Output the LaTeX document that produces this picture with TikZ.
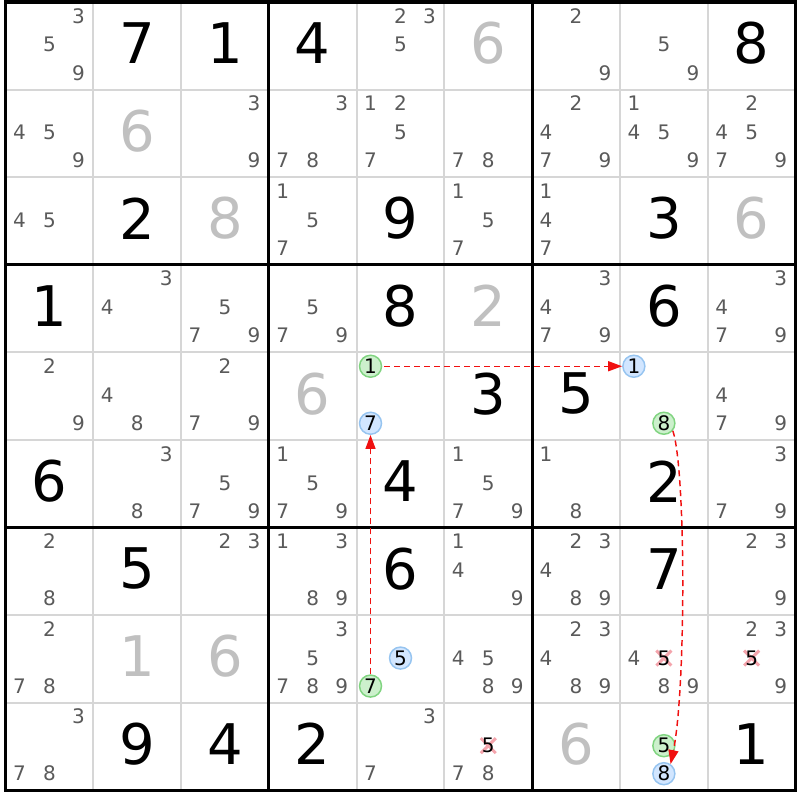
\documentclass[tikz,border=0pt]{standalone}
\usepackage{fontspec}
\setmainfont{DejaVu Sans}
\usetikzlibrary{arrows.meta}
\definecolor{candgray}{HTML}{5A5A5A}
\definecolor{givgray}{HTML}{C0C0C0}
\definecolor{thingrid}{HTML}{D6D6D6}
\definecolor{hlgreenfill}{HTML}{CCF0CC}
\definecolor{hlgreenline}{HTML}{80D480}
\definecolor{hlbluefill}{HTML}{D2E6FF}
\definecolor{hlblueline}{HTML}{96C4F0}
\definecolor{elimx}{HTML}{F4A4AC}
\definecolor{linkred}{HTML}{F01010}

\newcommand\setpos[3]{%
 \pgfmathsetmacro\cellx{49.4+(#2-1)*87.78}%
 \pgfmathsetmacro\celly{45.8+(#1-1)*87.61}%
 \pgfmathtruncatemacro\rr{(#3-1)/3}%
 \pgfmathtruncatemacro\cc{#3-1-3*\rr}%
 \edef\ddx{\ifcase\cc -30\or 0\or 29\fi}%
 \edef\ddy{\ifcase\rr -30\or -1\or 27\fi}%
 \pgfmathsetmacro\px{\cellx+\ddx}%
 \pgfmathsetmacro\py{\celly+\ddy}%
}
\newcommand\cands[3]{\foreach \d in {#3}{\setpos{#1}{#2}{\d}\node[cand] (k#1#2\d) at (\px,\py) {\d};}}
\newcommand\given[4]{%
 \pgfmathsetmacro\gx{49.4+(#2-1)*87.78}%
 \pgfmathsetmacro\gy{43.3+(#1-1)*87.61}%
 \node[given,#4] (g#1#2) at (\gx,\gy) {#3};}
\newcommand\hlcand[4]{\setpos{#1}{#2}{#3}\node[cand,#4] (h#1#2#3) at (\px,\py) {#3};}
\newcommand\elimcand[3]{\setpos{#1}{#2}{#3}%
 \draw[elimline] (\px-7.5,\py-7.5) -- (\px+7.5,\py+7.5);
 \draw[elimline] (\px-7.5,\py+7.5) -- (\px+7.5,\py-7.5);
 \node[cand,text=black] (e#1#2#3) at (\px,\py) {#3};}

\tikzset{
 cand/.style={inner sep=0pt,text=candgray,font=\fontsize{15}{15}\selectfont},
 given/.style={inner sep=0pt,text=black,font=\fontsize{42}{42}\selectfont},
 givengray/.style={text=givgray},
 hlgreen/.style={circle,draw=hlgreenline,fill=hlgreenfill,line width=1.1pt,minimum size=16.5pt,text=black},
 hlblue/.style={circle,draw=hlblueline,fill=hlbluefill,line width=1.1pt,minimum size=16.5pt,text=black},
 elimline/.style={draw=elimx,line width=2.2pt},
 thinline/.style={draw=thingrid,line width=1.5pt},
 thickline/.style={draw=black,line width=2.3pt},
 link/.style={draw=linkred,line width=1.1pt,dash pattern=on 4.5pt off 3pt,-{Triangle[length=10.5pt,width=7.5pt,fill=linkred]}},
}

\begin{document}
\begin{tikzpicture}[x=0.75pt,y=-0.75pt]
\useasboundingbox (0,0) rectangle (800,800);
\fill[white] (0,0) rectangle (800,800);
% grid
\foreach \i in {1,2,4,5,7,8}{
 \draw[thinline] ({5.5+\i*87.78},2) -- ({5.5+\i*87.78},790.5);
 \draw[thinline] (5.5,{2+\i*87.61}) -- (795.5,{2+\i*87.61});
}
\foreach \i in {0,3,6,9}{
 \draw[thickline] ({5.5+\i*87.78},0.8) -- ({5.5+\i*87.78},791.7);
 \draw[thickline] (4.3,{2+\i*87.61}) -- (796.7,{2+\i*87.61});
}
% givens
\given{1}{2}{7}{} \given{1}{3}{1}{} \given{1}{4}{4}{} \given{1}{9}{8}{}
\given{3}{2}{2}{} \given{3}{5}{9}{} \given{3}{8}{3}{}
\given{4}{1}{1}{} \given{4}{5}{8}{} \given{4}{8}{6}{}
\given{5}{6}{3}{} \given{5}{7}{5}{}
\given{6}{1}{6}{} \given{6}{5}{4}{} \given{6}{8}{2}{}
\given{7}{2}{5}{} \given{7}{5}{6}{} \given{7}{8}{7}{}
\given{9}{2}{9}{} \given{9}{3}{4}{} \given{9}{4}{2}{} \given{9}{9}{1}{}
\given{1}{6}{6}{givengray} \given{2}{2}{6}{givengray} \given{3}{3}{8}{givengray}
\given{3}{9}{6}{givengray} \given{4}{6}{2}{givengray} \given{5}{4}{6}{givengray}
\given{8}{2}{1}{givengray} \given{8}{3}{6}{givengray} \given{9}{7}{6}{givengray}
% candidates
\cands{1}{1}{3,5,9} \cands{1}{5}{2,3,5} \cands{1}{7}{2,9} \cands{1}{8}{5,9}
\cands{2}{1}{4,5,9} \cands{2}{3}{3,9} \cands{2}{4}{3,7,8} \cands{2}{5}{1,2,5,7}
\cands{2}{6}{7,8} \cands{2}{7}{2,4,7,9} \cands{2}{8}{1,4,5,9} \cands{2}{9}{2,4,5,7,9}
\cands{3}{1}{4,5} \cands{3}{4}{1,5,7} \cands{3}{6}{1,5,7} \cands{3}{7}{1,4,7}
\cands{4}{2}{3,4} \cands{4}{3}{5,7,9} \cands{4}{4}{5,7,9} \cands{4}{7}{3,4,7,9} \cands{4}{9}{3,4,7,9}
\cands{5}{1}{2,9} \cands{5}{2}{4,8} \cands{5}{3}{2,7,9} \cands{5}{9}{4,7,9}
\cands{6}{2}{3,8} \cands{6}{3}{5,7,9} \cands{6}{4}{1,5,7,9} \cands{6}{6}{1,5,7,9}
\cands{6}{7}{1,8} \cands{6}{9}{3,7,9}
\cands{7}{1}{2,8} \cands{7}{3}{2,3} \cands{7}{4}{1,3,8,9} \cands{7}{6}{1,4,9}
\cands{7}{7}{2,3,4,8,9} \cands{7}{9}{2,3,9}
\cands{8}{1}{2,7,8} \cands{8}{4}{3,5,7,8,9} \cands{8}{6}{4,5,8,9} \cands{8}{7}{2,3,4,8,9}
\cands{8}{8}{4,8,9} \cands{8}{9}{2,3,9}
\cands{9}{1}{3,7,8} \cands{9}{5}{3,7} \cands{9}{6}{7,8}
% eliminated
\elimcand{8}{8}{5} \elimcand{8}{9}{5} \elimcand{9}{6}{5}
% highlighted
\hlcand{5}{5}{1}{hlgreen} \hlcand{5}{5}{7}{hlblue}
\hlcand{5}{8}{1}{hlblue} \hlcand{5}{8}{8}{hlgreen}
\hlcand{8}{5}{5}{hlblue} \hlcand{8}{5}{7}{hlgreen}
\hlcand{9}{8}{5}{hlgreen} \hlcand{9}{8}{8}{hlblue}
% links
\draw[link,shorten <=1.5pt] (h551.east) -- (h581.west);
\draw[link] (h857.north) -- (h557.south);
\draw[link] (h588.-40) .. controls (686,470) and (686,690) .. (h988.55);
\end{tikzpicture}
\end{document}
